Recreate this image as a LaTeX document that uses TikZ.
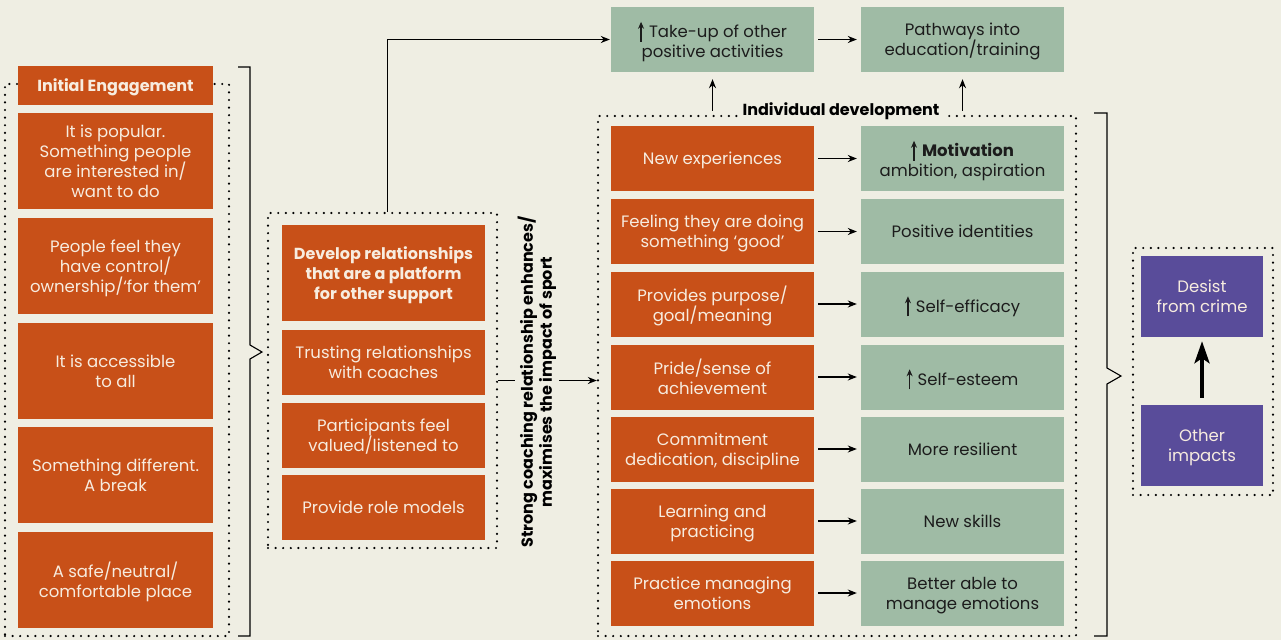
\documentclass[tikz,border=0pt]{standalone}
\usepackage{fontspec}
\setmainfont{Poppins}
\usetikzlibrary{arrows.meta,calc}
\definecolor{bgc}{HTML}{EFEEE3}
\definecolor{orng}{HTML}{C85018}
\definecolor{sage}{HTML}{9FBBA5}
\definecolor{plum}{HTML}{594C9A}
\definecolor{cream}{HTML}{F7ECDF}
\definecolor{ink}{HTML}{1C1C1C}
\newcommand\uparw{\tikz[baseline=0pt]\draw[line width=1.2pt,-{Stealth[length=7pt,width=6pt]}](0,-4pt)--(0,16pt);\hspace{5pt}}
\tikzset{
  box/.style={rectangle, inner sep=2pt, align=center, text depth=0pt, font=\fontsize{16.5}{20}\selectfont},
  obox/.style={box, fill=orng, text=cream},
  gbox/.style={box, fill=sage, text=ink},
  pbox/.style={box, fill=plum, text=cream, minimum width=122pt, minimum height=81pt},
  dotbox/.style={rectangle, draw=black, line width=2.4pt, dash pattern=on 0pt off 7.6pt, line cap=round, inner sep=0pt},
  arr/.style={draw=black, line width=1.2pt, -{Stealth[length=9pt,width=7pt]}},
  brk/.style={draw=black, line width=1.1pt},
}
\begin{document}
\begin{tikzpicture}[x=1pt,y=-1pt]
\fill[bgc] (0,0) rectangle (1281,640);
\useasboundingbox (0,0) rectangle (1281,640);

% dotted group frames
\node[dotbox, minimum width=224pt, minimum height=552pt] (grp1) at (117,360) {};
\node[dotbox, minimum width=229pt, minimum height=335pt] (grp2) at (382.5,380.5) {};
\node[dotbox, minimum width=478pt, minimum height=520pt] (grp3) at (837,376) {};
\node[dotbox, minimum width=140pt, minimum height=247pt] (grp4) at (1203,371.5) {};

% initial engagement column
\begin{scope}[every node/.append style={obox, minimum width=195pt, minimum height=96pt}]
\node[minimum height=39pt, font=\fontsize{16}{20}\selectfont\bfseries] (ie) at (115.5,85.5) {Initial Engagement};
\node (l1) at (115.5,161) {It is popular.\\Something people\\are interested in/\\want to do};
\node (l2) at (115.5,266) {People feel they\\have control/\\ownership/‘for them’};
\node (l3) at (115.5,371) {It is accessible\\to all};
\node (l4) at (115.5,475) {Something different.\\A break};
\node (l5) at (115.5,580) {A safe/neutral/\\comfortable place};
\end{scope}

% relationship column
\begin{scope}[every node/.append style={obox, minimum width=203pt, minimum height=65pt}]
\node[minimum height=96pt, font=\fontsize{16}{20}\selectfont\bfseries] (dev) at (383.5,273) {Develop relationships\\that are a platform\\for other support};
\node (m1) at (383.5,362.5) {Trusting relationships\\with coaches};
\node (m2) at (383.5,435) {Participants feel\\valued/listened to};
\node (m3) at (383.5,507.5) {Provide role models};
\end{scope}

% outcomes on top
\begin{scope}[every node/.append style={gbox, minimum width=203pt, minimum height=65pt}]
\node (take) at (712.5,39.5) {\uparw Take-up of other\\positive activities};
\node (path) at (962.5,39.5) {Pathways into\\education/training};
\end{scope}

% individual development rows
\begin{scope}[every node/.append style={minimum width=203pt, minimum height=65pt}]
\node[obox] (o1) at (712.5,158.5) {New experiences};
\node[obox] (o2) at (712.5,231.5) {Feeling they are doing\\something ‘good’};
\node[obox] (o3) at (712.5,304) {Provides purpose/\\goal/meaning};
\node[obox] (o4) at (712.5,377) {Pride/sense of\\achievement};
\node[obox] (o5) at (712.5,449) {Commitment\\dedication, discipline};
\node[obox] (o6) at (712.5,521) {Learning and\\practicing};
\node[obox] (o7) at (712.5,593) {Practice managing\\emotions};
\node[gbox] (g1) at (962.5,158.5) {\uparw\textbf{Motivation}\\ambition, aspiration};
\node[gbox] (g2) at (962.5,231.5) {Positive identities};
\node[gbox] (g3) at (962.5,304) {\uparw Self-efficacy};
\node[gbox] (g4) at (962.5,377) {\uparw Self-esteem};
\node[gbox] (g5) at (962.5,449) {More resilient};
\node[gbox] (g6) at (962.5,521) {New skills};
\node[gbox] (g7) at (962.5,593) {Better able to\\manage emotions};
\end{scope}

% final outcomes
\node[pbox] (desist) at (1202,296.5) {Desist\\from crime};
\node[pbox] (other) at (1202,445.5) {Other\\impacts};

% connectors
\draw[arr] ([xshift=5pt]grp2.north) |- ([xshift=-1pt]take.west);
\draw[arr] (grp2.east) -- (grp3.west |- grp2.east);
\node[rotate=90, fill=bgc, inner sep=3pt, align=center, font=\fontsize{16}{19}\selectfont\bfseries] (lbl) at (537,382) {Strong coaching relationship enhances/\\maximises the impact of sport};
\draw[arr, shorten <=4pt, shorten >=4pt] (take.east) -- (path.west);
\draw[arr, shorten <=4pt, shorten >=7pt] (grp3.north -| take) -- (take.south);
\draw[arr, shorten <=4pt, shorten >=7pt] (grp3.north -| path) -- (path.south);
\node[fill=bgc, inner sep=4pt, font=\fontsize{16}{20}\selectfont\bfseries] (idt) at (841,111) {Individual development};
\foreach \i in {1,...,7} {
  \draw[arr, shorten <=4pt, shorten >=4pt] (o\i.east) -- (g\i.west);
}
\draw[draw=black, line width=4pt, -{Stealth[length=22pt,width=15pt,inset=5pt]}, shorten <=7pt, shorten >=4pt] (other.north) -- (desist.south);

% braces
\draw[brk] (238,67) -- (250,67) -- (250,345) -- (262,352) -- (250,359) -- (250,636) -- (238,636);
\draw[brk] (1094,113) -- (1107,113) -- (1107,368) -- (1121,376) -- (1107,384) -- (1107,636) -- (1094,636);
\end{tikzpicture}
\end{document}
